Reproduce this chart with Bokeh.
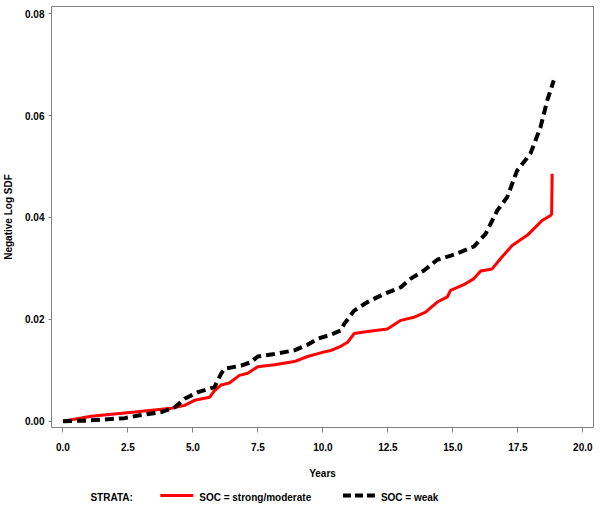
from bokeh.plotting import figure
from bokeh.models import Range1d, FixedTicker, PrintfTickFormatter
from bokeh.layouts import column
from bokeh.embed import file_html
from bokeh.resources import INLINE
from bokeh.core.properties import value

# ---- data ----
years_strong = [0.0, 1.09, 2.76, 4.17, 4.68, 5.06, 5.64, 5.83, 6.08, 6.40, 6.79, 7.11, 7.49,
                8.13, 8.90, 9.41, 10.05, 10.31, 10.69, 10.95, 11.20, 11.72, 12.48, 13.00,
                13.50, 13.95, 14.40, 14.79, 14.91, 15.42, 15.81, 16.07, 16.51, 16.83, 17.28,
                17.86, 18.18, 18.43, 18.76, 18.80, 18.82]
nls_strong = [0.0, 0.00098, 0.0018, 0.00255, 0.0031, 0.0041, 0.0047, 0.0060, 0.0071, 0.0075,
              0.0090, 0.0094, 0.0107, 0.0111, 0.0117, 0.0127, 0.0136, 0.0139, 0.0147, 0.0155,
              0.0172, 0.0176, 0.0181, 0.0198, 0.0204, 0.0214, 0.0234, 0.0244, 0.0257, 0.0268,
              0.0280, 0.0295, 0.0299, 0.0319, 0.0345, 0.0365, 0.0381, 0.0394, 0.0404, 0.0407,
              0.0486]

years_weak = [0.0, 0.84, 2.37, 2.89, 3.78, 4.29, 4.68, 5.19, 5.83, 6.08, 6.21, 6.85, 7.24,
              7.49, 8.13, 8.90, 9.41, 9.80, 10.31, 10.69, 10.82, 11.20, 11.72, 12.35, 13.00,
              13.38, 13.89, 14.40, 15.04, 15.81, 16.26, 16.71, 17.09, 17.47, 17.98, 18.37,
              18.63, 18.88]
nls_weak = [0.0, 0.0001, 0.0006, 0.0011, 0.0018, 0.0027, 0.0044, 0.0057, 0.0067, 0.0093,
            0.0103, 0.0109, 0.0116, 0.0127, 0.0132, 0.0139, 0.0150, 0.0162, 0.0170, 0.0178,
            0.0191, 0.0217, 0.0234, 0.0250, 0.0263, 0.0280, 0.0296, 0.0317, 0.0327, 0.0343,
            0.0368, 0.0414, 0.0440, 0.0492, 0.0525, 0.0577, 0.0630, 0.0669]

x_ticks = [0.0, 2.5, 5.0, 7.5, 10.0, 12.5, 15.0, 17.5, 20.0]
y_ticks = [0.00, 0.02, 0.04, 0.06, 0.08]
legend_title = "STRATA:"
strata_labels = ["SOC = strong/moderate", "SOC = weak"]
x_title = "Years"
y_title = "Negative Log SDF"

FONT = "Liberation Sans"
GRAY = "#808080"

p = figure(width=600, height=482, output_backend="svg", toolbar_location=None,
           x_range=Range1d(-0.4416, 20.41), y_range=Range1d(-0.00124, 0.08143),
           min_border_left=50, min_border_right=7, min_border_top=6, min_border_bottom=55)

p.line(years_strong, nls_strong, line_color="#ff0000", line_width=3)
p.line(years_weak, nls_weak, line_color="black", line_width=4, line_dash="9 5")

p.grid.visible = False
p.outline_line_color = GRAY
p.outline_line_width = 1
p.background_fill_color = "white"
p.border_fill_color = "white"

for ax in (p.xaxis[0], p.yaxis[0]):
    ax.axis_line_color = None
    ax.major_tick_line_color = GRAY
    ax.minor_tick_line_color = None
    ax.major_tick_in = 0
    ax.major_label_text_font = FONT
    ax.major_label_text_font_style = "bold"
    ax.major_label_text_font_size = "10px"
    ax.major_label_text_color = "black"
    ax.axis_label_text_font = FONT
    ax.axis_label_text_font_style = "bold"
    ax.axis_label_text_font_size = "10px"
    ax.axis_label_text_color = "black"

p.xaxis.ticker = FixedTicker(ticks=x_ticks)
p.xaxis.formatter = PrintfTickFormatter(format="%.1f")
p.xaxis.major_tick_out = 5
p.xaxis.major_label_standoff = 10
p.xaxis.axis_label = x_title
p.xaxis.axis_label_standoff = 14

p.yaxis.ticker = FixedTicker(ticks=y_ticks)
p.yaxis.formatter = PrintfTickFormatter(format="%.2f")
p.yaxis.major_tick_out = 3
p.yaxis.major_label_standoff = 4
p.yaxis.axis_label = y_title
p.yaxis.axis_label_standoff = 8

# ---- legend strip (its frame is aligned with the main frame: 50..593 px) ----
leg = figure(width=600, height=24, output_backend="svg", toolbar_location=None,
             x_range=Range1d(50, 593), y_range=Range1d(0, 24),
             x_axis_location=None, y_axis_location=None,
             min_border_left=50, min_border_right=7, min_border_top=0, min_border_bottom=0)
leg.grid.visible = False
leg.outline_line_color = None
leg.text(x=[89], y=[9.5], text=[legend_title], text_baseline="middle",
         text_font=value(FONT), text_font_style="bold", text_font_size="10px", text_color="black")
leg.line(x=[159, 192], y=[11, 11], line_color="#ff0000", line_width=3)
leg.text(x=[198], y=[9.5], text=[strata_labels[0]], text_baseline="middle",
         text_font=value(FONT), text_font_style="bold", text_font_size="10px", text_color="black")
leg.line(x=[342, 374], y=[11, 11], line_color="black", line_width=4, line_dash="8 4")
leg.text(x=[380], y=[9.5], text=[strata_labels[1]], text_baseline="middle",
         text_font=value(FONT), text_font_style="bold", text_font_size="10px", text_color="black")

layout = column(p, leg)
open("out.html", "w").write(file_html(layout, INLINE))
